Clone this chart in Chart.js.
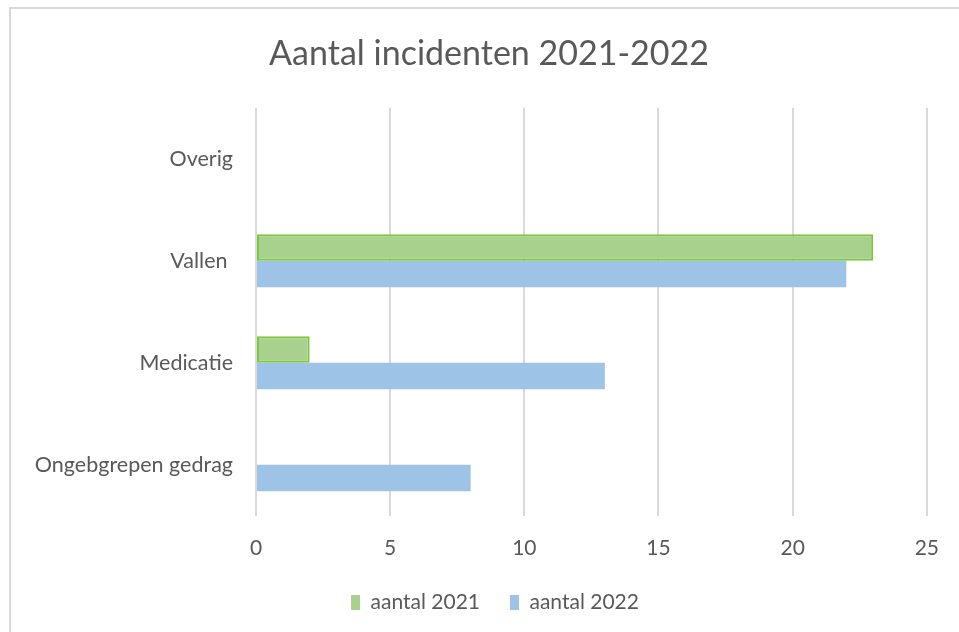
<!DOCTYPE html>
<html>
<head>
<meta charset="utf-8">
<script src="https://cdn.jsdelivr.net/npm/chart.js@4"></script>
<style>
  html, body { margin: 0; padding: 0; background: #fff; }
  .wrap { position: relative; width: 959px; height: 632px; overflow: hidden; }
  .frame { position: absolute; left: 9px; top: 7px; width: 1000px; height: 700px; border: 2px solid #d9d9d9; }
  canvas { position: absolute; left: 0; top: 0; }
</style>
</head>
<body>
<div class="wrap">
  <div class="frame"></div>
  <canvas id="incidentChart" width="959" height="632"></canvas>
</div>
<script>
// Data
const categories = ['Overig', 'Vallen ', 'Medicatie', 'Ongebgrepen gedrag'];
const aantal2021 = [0, 23, 2, 0];
const aantal2022 = [0, 22, 13, 8];
const xTicks = [0, 5, 10, 15, 20, 25];

const textColor = '#595959';
const fontFamily = 'Lato, "Open Sans", sans-serif';

// Excel centres title and legend a bit further right than Chart.js does
// and keeps the legend closer to the axis
const nudgeBoxes = {
    id: 'nudgeBoxes',
    afterLayout(chart) {
        chart.titleBlock.left = 48;
        chart.legend.left = 60;
        chart.legend.top -= 19;
        chart.legend.bottom -= 19;
    }
};

new Chart(document.getElementById('incidentChart'), {
    type: 'bar',
    data: {
        labels: categories,
        datasets: [{
            label: 'aantal 2021',
            data: aantal2021,
            backgroundColor: '#a9d18e',
            borderColor: '#7cc83c',
            borderWidth: ctx => ctx.raw ? 2 : 0,
            borderSkipped: false
        }, {
            label: 'aantal 2022',
            data: aantal2022,
            backgroundColor: '#9dc3e6',
            borderWidth: 0
        }]
    },
    options: {
        indexAxis: 'y',
        responsive: false,
        animation: false,
        layout: { padding: { left: 0, right: 29, top: 0, bottom: -10 } },
        datasets: {
            bar: { categoryPercentage: 0.52, barPercentage: 1 }
        },
        plugins: {
            title: {
                display: true,
                text: 'Aantal incidenten 2021-2022',
                color: textColor,
                font: { family: fontFamily, size: 34, weight: 'normal' },
                padding: { top: 34, bottom: 33 }
            },
            legend: {
                position: 'bottom',
                labels: {
                    color: textColor,
                    font: { family: fontFamily, size: 21 },
                    boxWidth: 9,
                    boxHeight: 15,
                    padding: 30
                }
            },
            tooltip: { enabled: false }
        },
        scales: {
            x: {
                min: 0,
                max: 25,
                afterBuildTicks: scale => { scale.ticks = xTicks.map(v => ({ value: v })); },
                grid: { color: '#d9d9d9', lineWidth: 2, drawTicks: false },
                border: { display: false },
                ticks: {
                    color: textColor,
                    font: { family: fontFamily, size: 21 },
                    padding: 20
                }
            },
            y: {
                afterFit: scale => { scale.width = 256; },
                grid: { display: false, drawTicks: false },
                border: { display: false },
                ticks: {
                    color: textColor,
                    font: { family: fontFamily, size: 21.5 },
                    padding: 23
                }
            }
        }
    },
    plugins: [nudgeBoxes]
});
</script>
</body>
</html>
